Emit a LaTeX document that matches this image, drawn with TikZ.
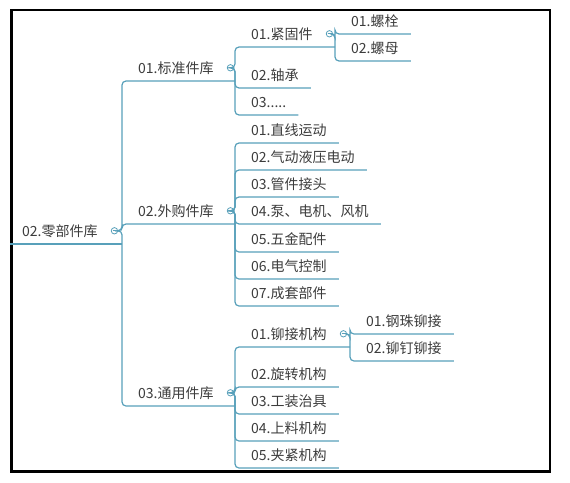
\documentclass[tikz,border=0pt]{standalone}
\usepackage{fontspec}
\newfontfamily\cjkfont{Noto Sans CJK SC}
\usetikzlibrary{positioning}
\definecolor{linkblue}{RGB}{88,160,186}
\definecolor{textgray}{RGB}{60,60,60}
\tikzset{
  topic/.style={
    anchor=south west, inner xsep=12pt, inner ysep=7pt,
    text height=12pt, text depth=0pt, text=textgray,
    font=\cjkfont\fontsize{14}{16}\selectfont
  },
  foldmark/.style={
    circle, draw=linkblue, line width=0.8pt, fill=white,
    minimum size=6.4pt, inner sep=0pt,
    path picture={\draw[linkblue, line width=0.7pt]
      ([xshift=-1.7pt]path picture bounding box.center) --
      ([xshift=1.7pt]path picture bounding box.center);}
  },
  link/.style={draw=linkblue, line width=1.2pt, rounded corners=4pt},
  frame/.style={draw=black, line width=2.2pt}
}

\begin{document}
\begin{tikzpicture}[x=1pt, y=-1pt]
  \useasboundingbox (0,0) rectangle (570,482);
  \draw[frame] (11.5,10) rectangle (550,471.5);

  % root
  \node[topic] (root) at (10,244) {02.零部件库};
  \node[foldmark, right=1pt of root] (root-dot) {};
  \coordinate (root-fork) at (122,244);

  % first level
  \node[topic] (bz) at (126,81) {01.标准件库};
  \node[topic] (wg) at (126,224) {02.外购件库};
  \node[topic] (ty) at (126,406) {03.通用件库};
  \node[foldmark, right=1pt of bz] (bz-dot) {};
  \node[foldmark, right=1pt of wg] (wg-dot) {};
  \node[foldmark, right=1pt of ty] (ty-dot) {};
  \coordinate (bz-fork) at (235,81);
  \coordinate (wg-fork) at (235,224);
  \coordinate (ty-fork) at (235,406);

  % standard parts
  \node[topic] (bz1) at (239,47) {01.紧固件};
  \node[topic] (bz2) at (239,88) {02.轴承};
  \node[topic] (bz3) at (239,115) {03.....};
  \node[foldmark, right=1pt of bz1] (bz1-dot) {};
  \coordinate (bz1-fork) at (335,47);
  \node[topic] (bz11) at (339,34) {01.螺栓};
  \node[topic] (bz12) at (339,61) {02.螺母};

  % purchased parts
  \node[topic] (wg1) at (239,143) {01.直线运动};
  \node[topic] (wg2) at (239,170) {02.气动液压电动};
  \node[topic] (wg3) at (239,197) {03.管件接头};
  \node[topic] (wg4) at (239,224) {04.泵、电机、风机};
  \node[topic] (wg5) at (239,252) {05.五金配件};
  \node[topic] (wg6) at (239,279) {06.电气控制};
  \node[topic] (wg7) at (239,306) {07.成套部件};

  % common parts
  \node[topic] (ty1) at (239,347) {01.铆接机构};
  \node[topic] (ty2) at (239,387) {02.旋转机构};
  \node[topic] (ty3) at (239,414) {03.工装治具};
  \node[topic] (ty4) at (239,441) {04.上料机构};
  \node[topic] (ty5) at (239,468) {05.夹紧机构};
  \node[foldmark, right=1pt of ty1] (ty1-dot) {};
  \coordinate (ty1-fork) at (350,347);
  \node[topic] (ty11) at (354,334) {01.钢珠铆接};
  \node[topic] (ty12) at (354,361) {02.铆钉铆接};

  % connectors
  \draw[link] (root.south west) -- (root-fork |- root.south);
  \foreach \c in {bz,wg,ty}
    \draw[link] (root-dot.east) -- (root-fork |- root-dot)
      -- (root-fork |- \c.south) -- (\c-fork |- \c.south);
  \draw[link] (bz-dot.east) -- (bz-fork |- bz-dot)
    -- (bz-fork |- bz1.south) -- (bz1-fork |- bz1.south);
  \foreach \c in {bz2,bz3}
    \draw[link] (bz-dot.east) -- (bz-fork |- bz-dot)
      -- (bz-fork |- \c.south) -- (\c.south east);
  \foreach \c in {bz11,bz12}
    \draw[link] (bz1-dot.east) -- (bz1-fork |- bz1-dot)
      -- (bz1-fork |- \c.south) -- (\c.south east);
  \foreach \c in {wg1,wg2,wg3,wg4,wg5,wg6,wg7}
    \draw[link] (wg-dot.east) -- (wg-fork |- wg-dot)
      -- (wg-fork |- \c.south) -- (\c.south east);
  \draw[link] (ty-dot.east) -- (ty-fork |- ty-dot)
    -- (ty-fork |- ty1.south) -- (ty1-fork |- ty1.south);
  \foreach \c in {ty2,ty3,ty4,ty5}
    \draw[link] (ty-dot.east) -- (ty-fork |- ty-dot)
      -- (ty-fork |- \c.south) -- (\c.south east);
  \foreach \c in {ty11,ty12}
    \draw[link] (ty1-dot.east) -- (ty1-fork |- ty1-dot)
      -- (ty1-fork |- \c.south) -- (\c.south east);
\end{tikzpicture}
\end{document}
